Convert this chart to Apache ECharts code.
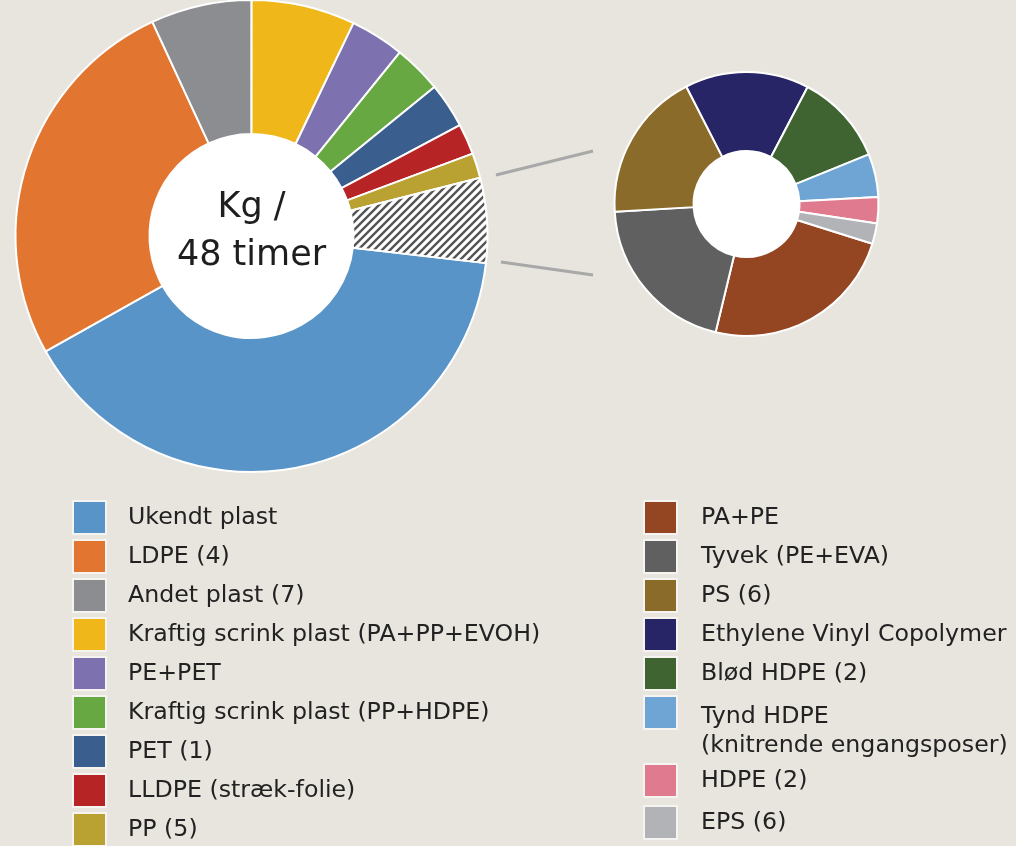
<!DOCTYPE html>
<html>
<head>
<meta charset="utf-8">
<script src="https://cdn.jsdelivr.net/npm/echarts@6/dist/echarts.min.js"></script>
<style>
html,body{margin:0;padding:0;background:#E8E4DE;}
#chart{width:1016px;height:846px;}
</style>
</head>
<body>
<div id="chart"></div>
<script>
// Main pie (share of total, %) – clockwise from "Ukendt plast"
const mainNames = ['Ukendt plast','LDPE (4)','Andet plast (7)','Kraftig scrink plast (PA+PP+EVOH)','PE+PET','Kraftig scrink plast (PP+HDPE)','PET (1)','LLDPE (stræk-folie)','PP (5)'];
const mainValues = [40.0, 26.2, 6.9, 7.1, 3.7, 3.3, 3.1, 2.1, 1.7];
const mainColors = ['#5894C8','#E27631','#8C8D91','#F0B71A','#7D72AF','#67A843','#3A5F8E','#B72426','#B9A232'];
const otherName = 'Øvrige';
const otherValue = 5.8;

// Detail pie (share of "Øvrige", %)
const subNames = ['PA+PE','Tyvek (PE+EVA)','PS (6)','Ethylene Vinyl Copolymer','Blød HDPE (2)','Tynd HDPE\n(knitrende engangsposer)','HDPE (2)','EPS (6)'];
const subValues = [23.9, 20.3, 18.4, 15.2, 11.2, 5.3, 3.2, 2.5];
const subColors = ['#944522','#606060','#8B6B2A','#282566','#3F6331','#6FA5D4','#E07A8E','#B2B3B7'];

const centerLabel = 'Kg /\n48 timer';

const FONT = 'DejaVu Sans';
const BG = '#E8E4DE';
const M = {cx:251.5, cy:236, r0:102, r1:236};
const S = {cx:746.5, cy:204, r0:53, r1:132};

function hatch(){
  const c = document.createElement('canvas');
  c.width = 8; c.height = 8;
  const g = c.getContext('2d');
  g.fillStyle = '#ffffff'; g.fillRect(0,0,8,8);
  g.strokeStyle = '#555555'; g.lineWidth = 2.4;
  g.beginPath();
  g.moveTo(-2,10); g.lineTo(10,-2);
  g.moveTo(-6,6); g.lineTo(6,-6);
  g.moveTo(2,14); g.lineTo(14,2);
  g.stroke();
  return c;
}

const mainData = mainNames.map((n,i)=>({name:n, value:mainValues[i], itemStyle:{color:mainColors[i]}}));
mainData.push({name:otherName, value:otherValue, itemStyle:{color:{image:hatch(), repeat:'repeat'}}});
const subData = subNames.map((n,i)=>({name:n, value:subValues[i], itemStyle:{color:subColors[i]}}));

const chart = echarts.init(document.getElementById('chart'), null, {renderer:'canvas'});
const legendIcon = {borderColor:'#F6F4F0', borderWidth:2};
function lg(extra){
  return Object.assign({orient:'vertical', padding:0, itemWidth:33, itemHeight:33, itemGap:4, icon:'rect',
    selectedMode:false, height:400, itemStyle:legendIcon}, extra);
}
function ts(padLeft){
  return {fontFamily:FONT, fontSize:23.7, lineHeight:29, color:'#222222', padding:[0,0,0,padLeft]};
}

chart.setOption({
  backgroundColor: BG,
  animation: false,
  legend: [
    lg({left:72, top:500, textStyle:ts(17), data: mainNames}),
    lg({left:643, top:500, textStyle:ts(19), data: subNames.slice(0,5)}),
    lg({left:643, top:665, textStyle:Object.assign(ts(19), {rich:{s:{lineHeight:37, fontSize:10}, a:{fontFamily:FONT, fontSize:23.7, lineHeight:29, color:'#222222'}}}),
        formatter: n => '{s| }\n' + n.split('\n').map(t=>'{a|'+t+'}').join('\n'),
        data: subNames.slice(5,6)}),
    lg({left:643, top:763, itemGap:7, textStyle:ts(19), data: subNames.slice(6)})
  ],
  graphic: [
    {type:'circle', z:0, shape:{cx:M.cx, cy:M.cy, r:M.r0}, style:{fill:'#ffffff'}, silent:true},
    {type:'circle', z:0, shape:{cx:S.cx, cy:S.cy, r:S.r0}, style:{fill:'#ffffff'}, silent:true},
    {type:'line', z:0, shape:{x1:496, y1:175, x2:593, y2:151}, style:{stroke:'#A8A8A8', lineWidth:3}, silent:true},
    {type:'line', z:0, shape:{x1:501, y1:262, x2:593, y2:275}, style:{stroke:'#A8A8A8', lineWidth:3}, silent:true},
    {type:'text', z:100, x:M.cx, y:M.cy-4, style:{text:centerLabel, fontFamily:FONT, fontSize:35, lineHeight:48,
      fill:'#1E1E1E', align:'center', verticalAlign:'middle'}, silent:true}
  ],
  series: [
    {type:'pie', center:[M.cx, M.cy], radius:[M.r0, M.r1], startAngle:-6.6, clockwise:true, silent:true,
     label:{show:false}, labelLine:{show:false}, itemStyle:{borderColor:'#ffffff', borderWidth:2},
     data: mainData},
    {type:'pie', center:[S.cx, S.cy], radius:[S.r0, S.r1], startAngle:-17.5, clockwise:true, silent:true,
     label:{show:false}, labelLine:{show:false}, itemStyle:{borderColor:'#ffffff', borderWidth:2},
     data: subData}
  ]
});
</script>
</body>
</html>
